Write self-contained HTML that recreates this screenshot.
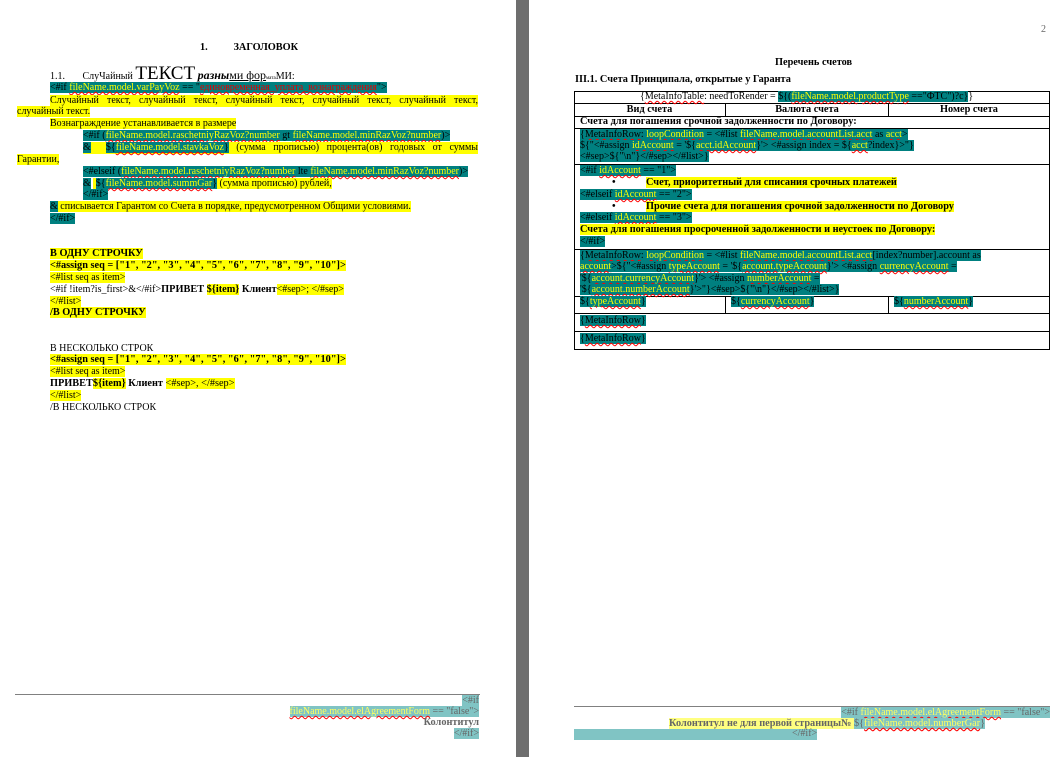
<!DOCTYPE html>
<html><head><meta charset="utf-8">
<style>
html,body{margin:0;padding:0;background:#fff;}
body{width:1050px;height:757px;position:relative;overflow:hidden;font-family:"Liberation Serif","DejaVu Serif",serif;font-size:10px;color:#000;}
.l{position:absolute;white-space:nowrap;line-height:12px;height:12px;}
.t{background:#008080;}
.y{background:#ffff00;}
.v{color:#ffff00;text-decoration:underline wavy red;text-decoration-thickness:1px;}
.r{color:#e00000;text-decoration:underline wavy red;}
.b{font-weight:bold;font-size:10.3px;}
.lt{background:#80c4c4;color:#666;}
.ly{background:#ffff80;color:#666;}
.lv{color:#ffff60;text-decoration:underline wavy red;}
.hl{position:absolute;background:#000;}
</style></head><body>
<div style="position:absolute;left:516px;top:0;width:13px;height:757px;background:#6e6e6e"></div>

<!-- LEFT PAGE -->
<div class="l b" style="left:200px;top:42px">1.&nbsp;&nbsp;&nbsp;&nbsp;&nbsp;&nbsp;&nbsp;&nbsp;&nbsp;&nbsp;ЗАГОЛОВОК</div>
<div class="l" style="left:50px;top:66px;height:16px;line-height:16px">1.1.&nbsp;&nbsp;&nbsp;&nbsp;&nbsp;&nbsp;&nbsp;СлуЧайный <span style="font-size:19px">ТЕКСТ</span> <b><i style="font-size:12px">разны</i></b><u style="font-size:12px">ми фор</u><span style="font-size:5px">мата</span>МИ:</div>
<div class="l" style="left:50px;top:82px"><span class="t">&lt;#if <span class="v">fileName.model.varPayVoz</span> == "<span class="r">единовременная_уплата_вознаграждения</span>"&gt;</span></div>
<div class="l" style="left:50px;top:95px;width:428px;"><span class="y" style="display:block;text-align:justify;text-align-last:justify">Случайный текст, случайный текст, случайный текст, случайный текст, случайный текст,</span></div>
<div class="l" style="left:17px;top:106px"><span class="y">случайный текст.</span></div>
<div class="l" style="left:50px;top:118px"><span class="y">Вознаграждение устанавливается в размере</span></div>
<div class="l" style="left:83px;top:130px"><span class="t">&lt;#if (<span class="v">fileName.model.raschetniyRazVoz?number</span> gt <span class="v">fileName.model.minRazVoz?number</span>)&gt;</span></div>
<div class="l" style="left:83px;top:142px;width:395px"><span class="y" style="display:block;text-align:justify;text-align-last:justify"><span class="t">&amp;</span>&nbsp; <span class="t">${<span class="v">fileName.model.stavkaVoz</span>}</span> (сумма прописью) процента(ов) годовых от суммы</span></div>
<div class="l" style="left:17px;top:154px"><span class="y">Гарантии,</span></div>
<div class="l" style="left:83px;top:166px"><span class="t">&lt;#elseif (<span class="v">fileName.model.raschetniyRazVoz?number</span> lte <span class="v">fileName.model.minRazVoz?number</span>)&gt;</span></div>
<div class="l" style="left:83px;top:178px"><span class="t">&amp;</span> <span class="y">&nbsp;</span><span class="t">${<span class="v">fileName.model.summGar</span>}</span><span class="y"> (сумма прописью) рублей,</span></div>
<div class="l" style="left:83px;top:189px"><span class="t">&lt;/#if&gt;</span></div>
<div class="l" style="left:50px;top:201px"><span class="t">&amp;</span><span class="y"> списывается Гарантом со Счета в порядке, предусмотренном Общими условиями.</span></div>
<div class="l" style="left:50px;top:213px"><span class="t">&lt;/#if&gt;</span></div>

<div class="l b" style="left:50px;top:248px"><span class="y">В ОДНУ СТРОЧКУ</span></div>
<div class="l b" style="left:50px;top:260px"><span class="y">&lt;#assign seq = ["1", "2", "3", "4", "5", "6", "7", "8", "9", "10"]&gt;</span></div>
<div class="l" style="left:50px;top:272px"><span class="y">&lt;#list seq as item&gt;</span></div>
<div class="l" style="left:50px;top:284px">&lt;#if !item?is_first&gt;&amp;&lt;/#if&gt;<b style="font-size:10.3px">ПРИВЕТ <span class="y">${item}</span> Клиент</b><span class="y">&lt;#sep&gt;; &lt;/#sep&gt;</span></div>
<div class="l" style="left:50px;top:296px"><span class="y">&lt;/#list&gt;</span></div>
<div class="l b" style="left:50px;top:307px"><span class="y">/В ОДНУ СТРОЧКУ</span></div>

<div class="l" style="left:50px;top:343px">В НЕСКОЛЬКО СТРОК</div>
<div class="l b" style="left:50px;top:354px"><span class="y">&lt;#assign seq = ["1", "2", "3", "4", "5", "6", "7", "8", "9", "10"]&gt;</span></div>
<div class="l" style="left:50px;top:366px"><span class="y">&lt;#list seq as item&gt;</span></div>
<div class="l b" style="left:50px;top:378px">ПРИВЕТ<span class="y">${item}</span> Клиент <span class="y" style="font-weight:normal">&lt;#sep&gt;, &lt;/#sep&gt;</span></div>
<div class="l" style="left:50px;top:390px"><span class="y">&lt;/#list&gt;</span></div>
<div class="l" style="left:50px;top:402px">/В НЕСКОЛЬКО СТРОК</div>

<div style="position:absolute;left:15px;top:694px;width:465px;height:1px;background:#808080"></div>
<div class="l" style="right:571px;top:695px"><span class="lt">&lt;#if</span></div>
<div class="l" style="right:571px;top:706px"><span class="lt"><span class="lv">fileName.model.elAgreementForm</span> == "false"&gt;</span></div>
<div class="l b" style="right:571px;top:717px;color:#666">Колонтитул</div>
<div class="l" style="right:571px;top:728px"><span class="lt">&lt;/#if&gt;</span></div>

<!-- RIGHT PAGE -->
<div class="l" style="left:1041px;top:24px;color:#666">2</div>
<div class="l b" style="left:775px;top:57px">Перечень счетов</div>
<div class="l b" style="left:575px;top:74px">III.1. Счета Принципала, открытые у Гаранта</div>

<div class="hl" style="left:574px;top:91px;width:476px;height:1px"></div>
<div class="hl" style="left:574px;top:103px;width:476px;height:1px"></div>
<div class="hl" style="left:574px;top:116px;width:476px;height:1px"></div>
<div class="hl" style="left:574px;top:128px;width:476px;height:1px"></div>
<div class="hl" style="left:574px;top:164px;width:476px;height:1px"></div>
<div class="hl" style="left:574px;top:249px;width:476px;height:1px"></div>
<div class="hl" style="left:574px;top:296px;width:476px;height:1px"></div>
<div class="hl" style="left:574px;top:313px;width:476px;height:1px"></div>
<div class="hl" style="left:574px;top:331px;width:476px;height:1px"></div>
<div class="hl" style="left:574px;top:349px;width:476px;height:1px"></div>
<div class="hl" style="left:574px;top:91px;width:1px;height:259px"></div>
<div class="hl" style="left:1049px;top:91px;width:1px;height:259px"></div>
<div class="hl" style="left:725px;top:103px;width:1px;height:13px"></div>
<div class="hl" style="left:888px;top:103px;width:1px;height:13px"></div>
<div class="hl" style="left:725px;top:296px;width:1px;height:17px"></div>
<div class="hl" style="left:888px;top:296px;width:1px;height:17px"></div>

<div class="l" style="left:640px;top:91px">{<span style="text-decoration:underline wavy red">MetaInfoTable</span>: needToRender = <span class="t">${(<span class="v">fileName.model.productType</span> =="ФТС")?c}</span>}</div>
<div class="l b" style="left:574px;top:104px;width:151px;text-align:center">Вид счета</div>
<div class="l b" style="left:726px;top:104px;width:162px;text-align:center">Валюта счета</div>
<div class="l b" style="left:889px;top:104px;width:160px;text-align:center">Номер счета</div>
<div class="l b" style="left:580px;top:116px">Счета для погашения срочной задолженности по Договору:</div>

<div class="l" style="left:580px;top:129px"><span class="t">{<span style="text-decoration:underline wavy red">MetaInfoRow</span>: <span class="v">loopCondition</span> = &lt;#list <span class="v">fileName.model.accountList.acct</span> as <span class="v">acct</span>&gt;</span></div>
<div class="l" style="left:580px;top:140px"><span class="t">${"&lt;#assign <span class="v">idAccount</span> = '${<span class="v">acct.idAccount</span>}'&gt; &lt;#assign index = ${<span class="v">acct</span>?index}&gt;"}</span></div>
<div class="l" style="left:580px;top:151px"><span class="t">&lt;#sep&gt;${"\n"}&lt;/#sep&gt;&lt;/#list&gt;}</span></div>

<div class="l" style="left:580px;top:165px"><span class="t">&lt;#if <span class="v">idAccount</span> == "1"&gt;</span></div>
<div class="l b" style="left:612px;top:177px">•</div>
<div class="l b" style="left:646px;top:177px"><span class="y">Счет, приоритетный для списания срочных платежей</span></div>
<div class="l" style="left:580px;top:189px"><span class="t">&lt;#elseif <span class="v">idAccount</span> == "2"&gt;</span></div>
<div class="l b" style="left:612px;top:201px">•</div>
<div class="l b" style="left:646px;top:201px"><span class="y">Прочие счета для погашения срочной задолженности по Договору</span></div>
<div class="l" style="left:580px;top:212px"><span class="t">&lt;#elseif <span class="v">idAccount</span> == "3"&gt;</span></div>
<div class="l b" style="left:580px;top:224px"><span class="y">Счета для погашения просроченной задолженности и неустоек по Договору:</span></div>
<div class="l" style="left:580px;top:236px"><span class="t">&lt;/#if&gt;</span></div>

<div class="l" style="left:580px;top:250px"><span class="t">{<span style="text-decoration:underline wavy red">MetaInfoRow</span>: <span class="v">loopCondition</span> = &lt;#list <span class="v">fileName.model.accountList.acct</span>[index?number].account as</span></div>
<div class="l" style="left:580px;top:261px"><span class="t"><span class="v">account</span>&gt;${"&lt;#assign <span class="v">typeAccount</span> = '${<span class="v">account.typeAccount</span>}'&gt; &lt;#assign <span class="v">currencyAccount</span> =</span></div>
<div class="l" style="left:580px;top:273px"><span class="t">'${<span class="v">account.currencyAccount</span>}'&gt; &lt;#assign <span class="v">numberAccount</span> =</span></div>
<div class="l" style="left:580px;top:284px"><span class="t">'${<span class="v">account.numberAccount</span>}'&gt;"}&lt;#sep&gt;${"\n"}&lt;/#sep&gt;&lt;/#list&gt;}</span></div>

<div class="l" style="left:580px;top:296px"><span class="t">${<span class="v">typeAccount</span>}</span></div>
<div class="l" style="left:731px;top:296px"><span class="t">${<span class="v">currencyAccount</span>}</span></div>
<div class="l" style="left:894px;top:296px"><span class="t">${<span class="v">numberAccount</span>}</span></div>
<div class="l" style="left:580px;top:315px"><span class="t">{<span style="text-decoration:underline wavy red">MetaInfoRow</span>}</span></div>
<div class="l" style="left:580px;top:333px"><span class="t">{<span style="text-decoration:underline wavy red">MetaInfoRow</span>}</span></div>

<div style="position:absolute;left:574px;top:706px;width:476px;height:1px;background:#808080"></div>
<div class="l" style="right:0px;top:707px"><span class="lt">&lt;#if <span class="lv">fileName.model.elAgreementForm</span> == "false"&gt;</span></div>
<div class="l b" style="left:669px;top:718px"><span class="ly">Колонтитул не для первой страницы№ </span><span class="lt" style="font-weight:normal">${<span class="lv">fileName.model.numberGar</span>}</span></div>
<div style="position:absolute;left:574px;top:729px;width:243px;height:11px;background:#80c4c4"></div>
<div class="l" style="left:792px;top:728px;color:#666">&lt;/#if&gt;</div>
</body></html>
